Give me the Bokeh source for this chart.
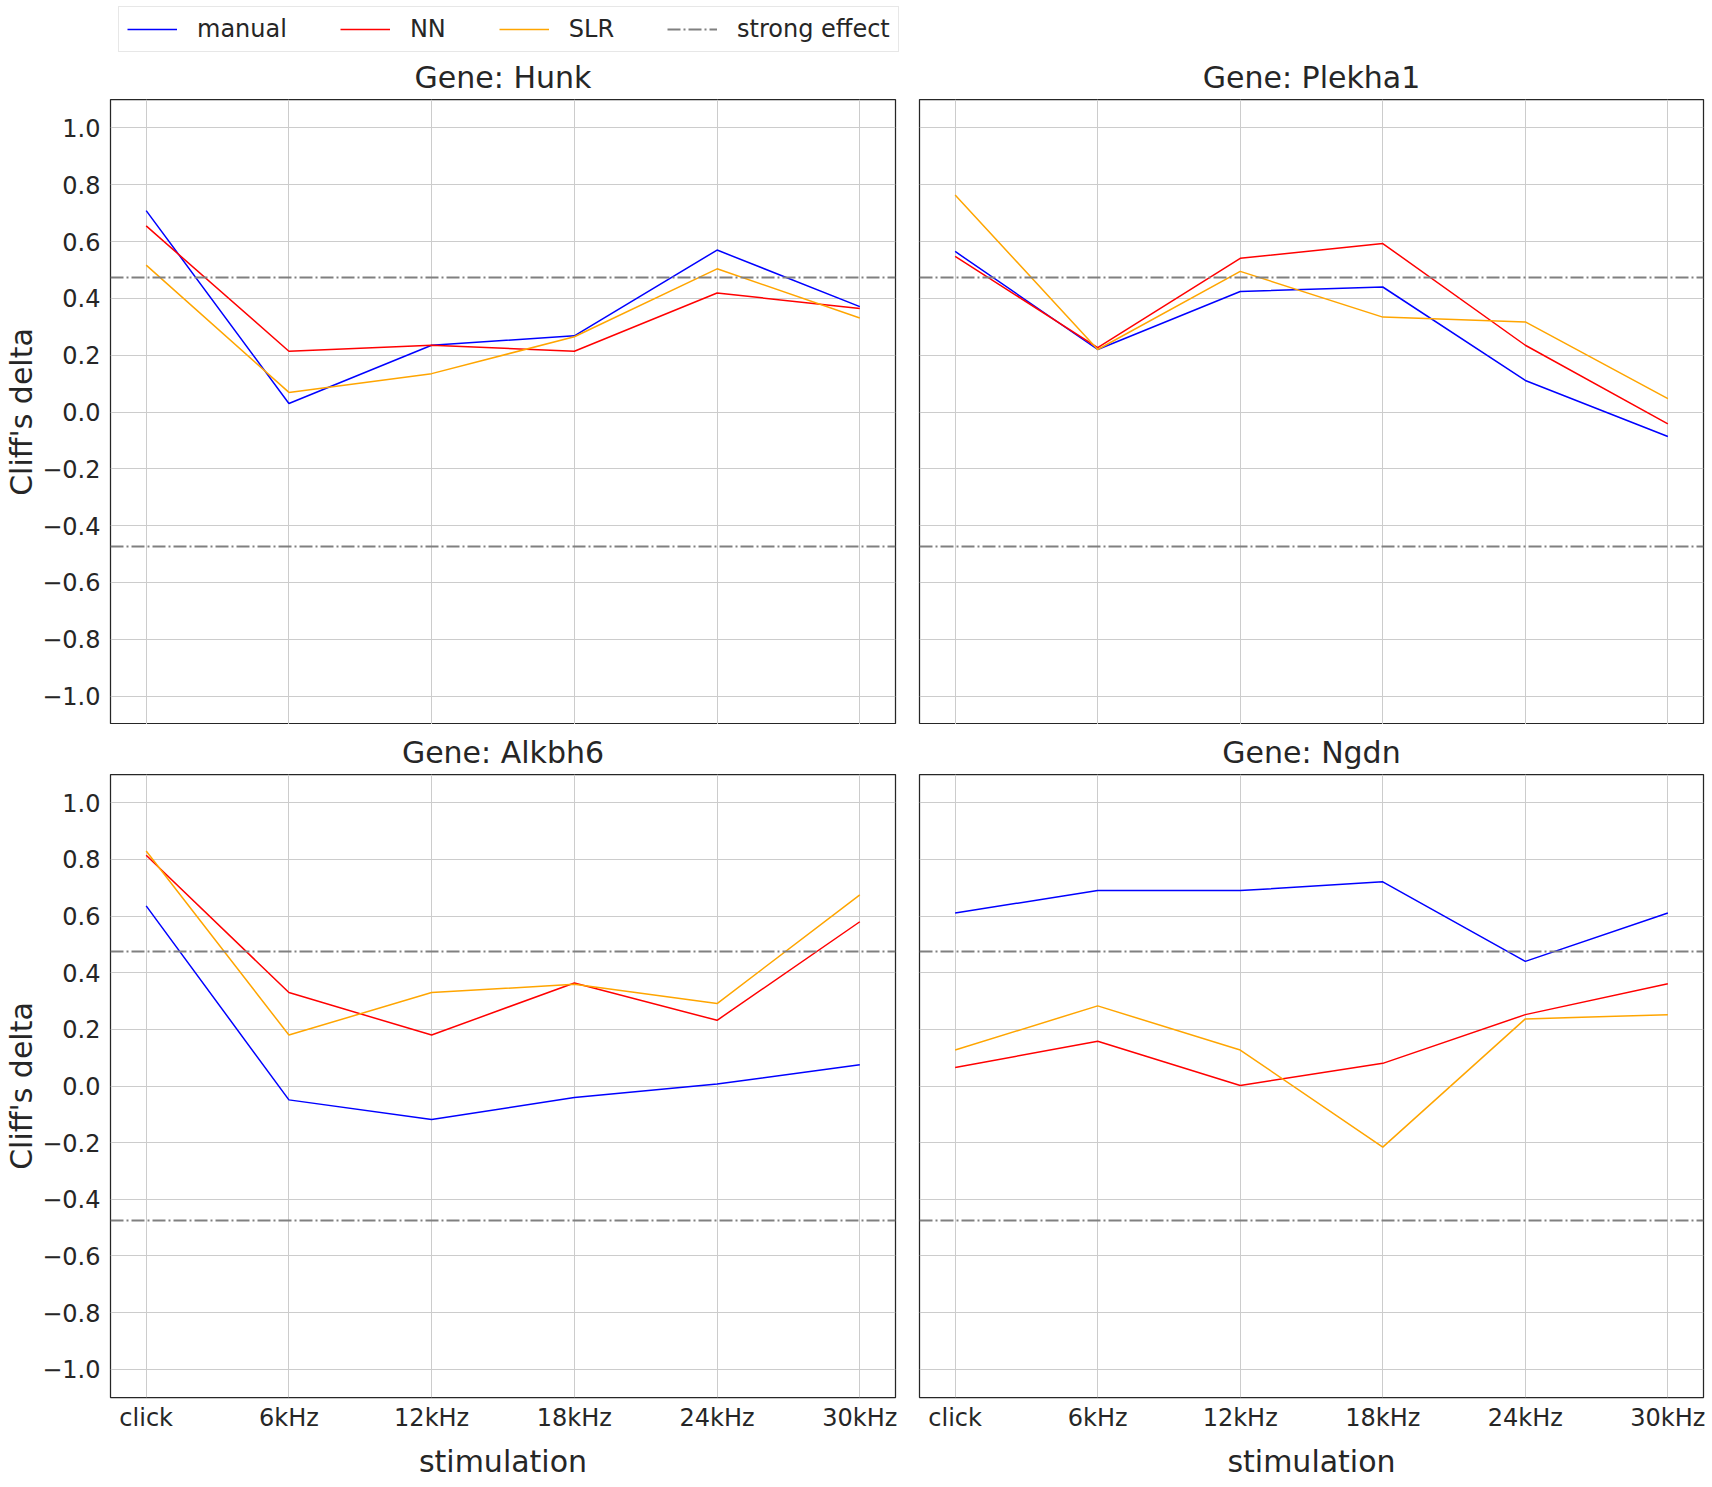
from bokeh.plotting import figure
from bokeh.layouts import column, row
from bokeh.models import (Range1d, FixedTicker, CustomJSTickFormatter, Grid,
                          Legend, LegendItem, Title)
from bokeh.embed import file_html
from bokeh.resources import INLINE

# ---------------- data ----------------
STIM = ["click", "6kHz", "12kHz", "18kHz", "24kHz", "30kHz"]
GENES = ["Hunk", "Plekha1", "Alkbh6", "Ngdn"]
METHODS = ["manual", "NN", "SLR"]
STRONG_LABEL = "strong effect"
STRONG = 0.474
Y_TICKS = [-1.0, -0.8, -0.6, -0.4, -0.2, 0.0, 0.2, 0.4, 0.6, 0.8, 1.0]

hunk_manual = [0.709, 0.030, 0.235, 0.268, 0.570, 0.371]
hunk_nn = [0.655, 0.214, 0.235, 0.214, 0.419, 0.364]
hunk_slr = [0.517, 0.069, 0.135, 0.265, 0.504, 0.331]

plekha1_manual = [0.565, 0.220, 0.424, 0.440, 0.111, -0.086]
plekha1_nn = [0.548, 0.227, 0.541, 0.593, 0.235, -0.042]
plekha1_slr = [0.764, 0.220, 0.495, 0.334, 0.317, 0.047]

alkbh6_manual = [0.636, -0.049, -0.118, -0.041, 0.007, 0.075]
alkbh6_nn = [0.815, 0.330, 0.180, 0.364, 0.232, 0.580]
alkbh6_slr = [0.830, 0.180, 0.330, 0.359, 0.291, 0.675]

ngdn_manual = [0.611, 0.690, 0.690, 0.721, 0.440, 0.611]
ngdn_nn = [0.065, 0.158, 0.002, 0.080, 0.252, 0.361]
ngdn_slr = [0.127, 0.283, 0.127, -0.216, 0.237, 0.252]

SERIES = {
    "Hunk": [hunk_manual, hunk_nn, hunk_slr],
    "Plekha1": [plekha1_manual, plekha1_nn, plekha1_slr],
    "Alkbh6": [alkbh6_manual, alkbh6_nn, alkbh6_slr],
    "Ngdn": [ngdn_manual, ngdn_nn, ngdn_slr],
}

# ---------------- style ----------------
COLORS = {"manual": "#0000ff", "NN": "#ff0000", "SLR": "#ffa500"}
STRONG_COLOR = "#808080"
TXT = "#262626"
FONT = "DejaVu Sans"
GRID = "#cccccc"
DASH = "13 3 2 3"
NAN = float("nan")

x_idx = list(range(len(STIM)))

y_fmt = CustomJSTickFormatter(code="""
const s = Math.abs(tick).toFixed(1);
return tick < -1e-9 ? "\\u2212" + s : s;
""")
x_fmt = CustomJSTickFormatter(args=dict(labels=STIM), code="""
const i = Math.round(tick);
return (i >= 0 && i < labels.length) ? labels[i] : "";
""")


def make_panel(gene, left, bottom):
    fw = 785 if left else 784
    fh = 625 if not bottom else 623
    p = figure(
        output_backend="svg", toolbar_location=None,
        frame_width=fw, frame_height=fh,
        x_range=Range1d(-0.25, 5.25), y_range=Range1d(-1.1, 1.1),
        x_axis_location="below" if bottom else None,
        y_axis_location="left" if left else None,
        min_border_left=110 if left else 12,
        min_border_right=12 if left else 8,
        min_border_top=47 if not bottom else 50,
        min_border_bottom=0,
        title=None,
    )
    p.background_fill_color = "white"
    p.border_fill_color = "white"
    p.outline_line_color = TXT
    p.outline_line_width = 1.25

    ttl = Title(text="Gene: " + gene, text_font=FONT, text_font_size="30px",
                text_font_style="normal", text_color=TXT, align="center",
                standoff=10)
    p.add_layout(ttl, "above")

    for g in list(p.grid):
        p.center.remove(g)
    p.add_layout(Grid(dimension=0, ticker=FixedTicker(ticks=x_idx),
                      grid_line_color=GRID, grid_line_width=1), "center")
    p.add_layout(Grid(dimension=1, ticker=FixedTicker(ticks=Y_TICKS),
                      grid_line_color=GRID, grid_line_width=1), "center")

    for ax in p.axis:
        ax.axis_line_color = None
        ax.major_tick_line_color = None
        ax.minor_tick_line_color = None
        ax.major_tick_in = 0
        ax.major_tick_out = 0
        ax.minor_tick_in = 0
        ax.minor_tick_out = 0
        ax.major_label_text_font = FONT
        ax.major_label_text_font_size = "24px"
        ax.major_label_text_color = TXT
        ax.axis_label_text_font = FONT
        ax.axis_label_text_font_size = "30px"
        ax.axis_label_text_font_style = "normal"
        ax.axis_label_text_color = TXT
    if left:
        ya = p.yaxis[0]
        ya.ticker = FixedTicker(ticks=Y_TICKS)
        ya.formatter = y_fmt
        ya.axis_label = "Cliff's delta"
        ya.major_label_standoff = 10
        ya.axis_label_standoff = 0
    if bottom:
        xa = p.xaxis[0]
        xa.ticker = FixedTicker(ticks=x_idx)
        xa.formatter = x_fmt
        xa.axis_label = "stimulation"
        xa.major_label_standoff = 6
        xa.axis_label_standoff = 9

    for m, ys in zip(METHODS, SERIES[gene]):
        p.line(x_idx, ys, line_color=COLORS[m], line_width=1.5)
    p.hspan(y=[STRONG, -STRONG], line_color=STRONG_COLOR,
            line_width=2, line_dash=DASH)
    return p


# ---------------- legend strip (figure-level legend) ----------------
lf = figure(output_backend="svg", toolbar_location=None,
            frame_width=800, frame_height=47,
            min_border_left=117, min_border_right=0,
            min_border_top=5, min_border_bottom=0,
            x_range=Range1d(0, 1), y_range=Range1d(0, 1),
            x_axis_location=None, y_axis_location=None, title=None)
lf.outline_line_color = None
lf.background_fill_color = "white"
lf.border_fill_color = "white"
for g in list(lf.grid):
    lf.center.remove(g)
items = []
for m in METHODS:
    r = lf.line(x=[NAN], y=[NAN], line_color=COLORS[m], line_width=1.5)
    items.append(LegendItem(label=m, renderers=[r]))
rs = lf.line(x=[NAN], y=[NAN], line_color=STRONG_COLOR, line_width=2,
             line_dash=DASH)
items.append(LegendItem(label=STRONG_LABEL, renderers=[rs]))
lg = Legend(items=items, orientation="horizontal", location="top_left",
            label_text_font=FONT, label_text_font_size="24px",
            label_text_color=TXT,
            glyph_width=50, glyph_height=20, label_standoff=20,
            spacing=53, padding=8, margin=1,
            border_line_color="#d0d0d0", border_line_width=1,
            background_fill_color="white", background_fill_alpha=1.0)
lf.add_layout(lg, "center")

tl = make_panel("Hunk", left=True, bottom=False)
tr = make_panel("Plekha1", left=False, bottom=False)
bl = make_panel("Alkbh6", left=True, bottom=True)
br = make_panel("Ngdn", left=False, bottom=True)

layout = column(lf, row(tl, tr, spacing=0), row(bl, br, spacing=0), spacing=0)

open("out.html", "w").write(file_html(layout, INLINE))
